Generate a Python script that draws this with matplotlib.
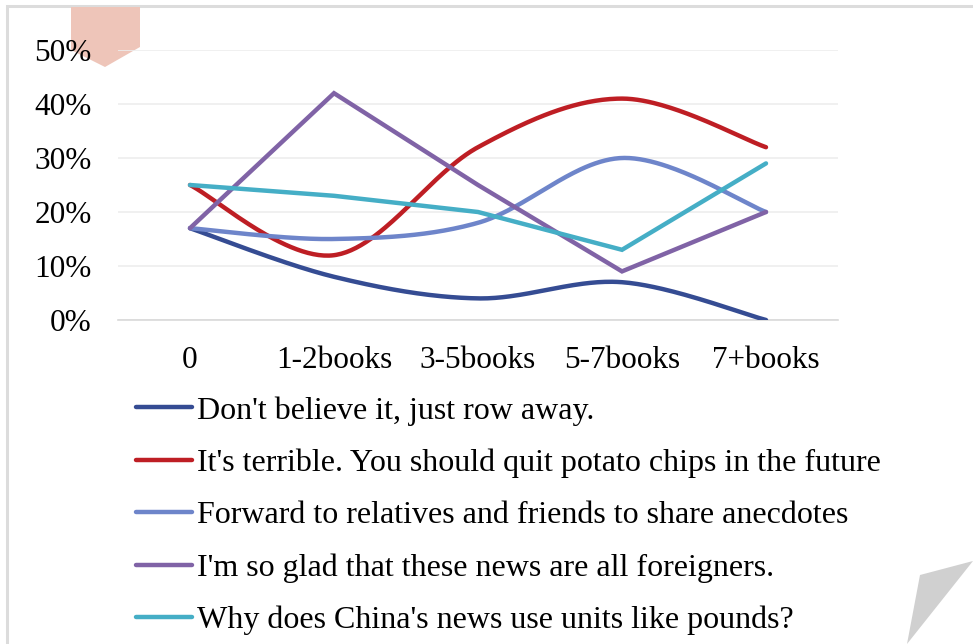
import matplotlib
matplotlib.use("Agg")
import matplotlib.pyplot as plt
import numpy as np
from matplotlib.patches import Polygon, Rectangle

plt.rcParams["font.family"] = ["Liberation Serif", "DejaVu Serif"]

CATEGORIES = ["0", "1-2books", "3-5books", "5-7books", "7+books"]

DONT_BELIEVE = [0.17, 0.08, 0.04, 0.07, 0.00]
TERRIBLE = [0.25, 0.12, 0.32, 0.41, 0.32]
FORWARD = [0.17, 0.15, 0.18, 0.30, 0.20]
GLAD = [0.17, 0.42, 0.25, 0.09, 0.20]
POUNDS = [0.25, 0.23, 0.20, 0.13, 0.29]

LABELS = [
    "Don't believe it, just row away.",
    "It's terrible. You should quit potato chips in the future",
    "Forward to relatives and friends to share anecdotes",
    "I'm so glad that these news are all foreigners.",
    "Why does China's news use units like pounds?",
]
COLORS = ["#354C93", "#BE1E24", "#6E85CA", "#8063A6", "#45AEC6"]
SMOOTH = [True, True, True, False, False]


def smooth_curve(y, n=60):
    # Catmull-Rom style bezier, like the spreadsheet's smoothed lines
    y = np.asarray(y, dtype=float)
    x = np.arange(len(y), dtype=float)
    pts = np.column_stack([x, y])
    ext = np.vstack([pts[0], pts, pts[-1]])
    out = []
    t = np.linspace(0, 1, n)[:, None]
    for i in range(len(pts) - 1):
        p0, p1, p2, p3 = ext[i], ext[i + 1], ext[i + 2], ext[i + 3]
        c1 = p1 + (p2 - p0) / 6
        c2 = p2 - (p3 - p1) / 6
        seg = ((1 - t) ** 3) * p1 + 3 * ((1 - t) ** 2) * t * c1 + 3 * (1 - t) * t ** 2 * c2 + t ** 3 * p2
        out.append(seg if i == 0 else seg[1:])
    seg = np.vstack(out)
    return seg[:, 0], seg[:, 1]


W, H = 973, 644
fig = plt.figure(figsize=(W / 100, H / 100), dpi=100)

# frame and decorations (behind the chart)
fig.patches.append(Rectangle((7 / W, -0.01), 1.0, (H - 6) / H + 0.01, transform=fig.transFigure,
                             fill=False, edgecolor="#DCDCDC", linewidth=2.2, zorder=-2))
fig.patches.append(Polygon([(71 / W, 1 - 7 / H), (140 / W, 1 - 7 / H), (140 / W, 1 - 47 / H),
                            (105 / W, 1 - 67 / H), (71 / W, 1 - 50 / H)],
                           closed=True, transform=fig.transFigure, facecolor="#EEC5B9",
                           edgecolor="none", zorder=-1))
fig.patches.append(Polygon([(920 / W, 1 - 575 / H), (973 / W, 1 - 561 / H), (907 / W, 1 - 644 / H)],
                           closed=True, transform=fig.transFigure, facecolor="#D0D0D0",
                           edgecolor="none", zorder=-1))

ax = fig.add_axes([118 / W, (H - 320) / H, 720 / W, 270 / H])
ax.patch.set_alpha(0)

series = [DONT_BELIEVE, TERRIBLE, FORWARD, GLAD, POUNDS]
for vals, lab, col, sm in zip(series, LABELS, COLORS, SMOOTH):
    if sm:
        xs, ys = smooth_curve(vals)
    else:
        xs, ys = np.arange(len(vals)), vals
    ax.plot(xs, ys, color=col, lw=3.2, label=lab, solid_capstyle="round",
            solid_joinstyle="miter", zorder=3)

ax.set_xlim(-0.5, len(CATEGORIES) - 0.5)
ax.set_ylim(0, 0.5)
ax.set_yticks(np.arange(0, 0.51, 0.1))
ax.set_yticklabels([f"{int(round(v * 100))}%" for v in np.arange(0, 0.51, 0.1)])
ax.set_xticks(range(len(CATEGORIES)))
ax.set_xticklabels(CATEGORIES)
ax.grid(axis="y", color="#EDEDED", lw=1.2, zorder=0)
ax.set_axisbelow(True)
for s in ["top", "right", "left"]:
    ax.spines[s].set_visible(False)
ax.spines["bottom"].set_color("#D9D9D9")
ax.spines["bottom"].set_linewidth(1.2)
ax.tick_params(axis="both", length=0, labelsize=22.5, colors="black")
ax.tick_params(axis="x", pad=19)
ax.tick_params(axis="y", pad=19)

fig.legend(loc="upper left", bbox_to_anchor=(136 / W, 1 - 396 / H), frameon=False,
           fontsize=23, handlelength=1.75, handletextpad=0.15, labelspacing=0.72,
           borderpad=0, borderaxespad=0)

fig.savefig("out.png", dpi=100)
